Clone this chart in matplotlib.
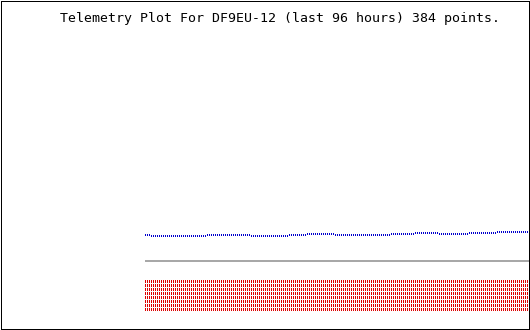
#!/usr/bin/env python3
"""Telemetry plot for DF9EU-12, last 96 hours."""

import matplotlib
matplotlib.use("Agg")
import matplotlib.pyplot as plt
from matplotlib.patches import Rectangle
from matplotlib.transforms import IdentityTransform

# ---------------------------------------------------------------------------
# Data
# ---------------------------------------------------------------------------
TITLE = "Telemetry Plot For DF9EU-12 (last 96 hours) 384 points."
HOURS = 96
SAMPLE_STEP = 0.5  # hours between plotted samples

# analog channel 1 (blue), raw counts, oldest -> newest
CH1 = [
    96, 96, 96,
    95, 95, 95, 95, 95, 95, 95, 95, 95, 95, 95, 95, 95, 95,
    95, 95, 95, 95, 95, 95, 95, 95, 95, 95, 95, 95, 95, 95,
    96, 96, 96, 96, 96, 96, 96, 96, 96, 96, 96,
    96, 96, 96, 96, 96, 96, 96, 96, 96, 96, 96,
    95, 95, 95, 95, 95, 95, 95, 95, 95, 95,
    95, 95, 95, 95, 95, 95, 95, 95, 95,
    96, 96, 96, 96, 96, 96, 96, 96, 96,
    97, 97, 97, 97, 97, 97, 97, 97, 97, 97, 97, 97, 97, 97,
    96, 96, 96, 96, 96, 96, 96, 96, 96, 96, 96, 96, 96, 96,
    96, 96, 96, 96, 96, 96, 96, 96, 96, 96, 96, 96, 96, 96,
    97, 97, 97, 97, 97, 97, 97, 97, 97, 97, 97, 97,
    98, 98, 98, 98, 98, 98, 98, 98, 98, 98, 98, 98,
    97, 97, 97, 97, 97, 97, 97, 97, 97, 97, 97, 97, 97, 97, 97,
    98, 98, 98, 98, 98, 98, 98, 98, 98, 98, 98, 98, 98, 98,
    99, 99, 99, 99, 99, 99, 99, 99, 99, 99, 99, 99, 99, 99, 99, 99,
]

# analog channel 2 (grey), constant over the window
CH2_LEVEL = 69

# digital bits (red), state of each of the 8 bits
BITS = [1, 1, 1, 1, 1, 1, 1, 1]

# ---------------------------------------------------------------------------
# Style
# ---------------------------------------------------------------------------
BLUE = "#0000cc"
GREY = "#a8a8a8"
RED = "#dd0000"
W, H, DPI = 530, 330, 100
PLOT_LEFT_PX = 145
PX_PER_HOUR = 4
BIT_TOP = 50
BIT_PITCH = 4
BIT_HEIGHT = 3

times = [-HOURS + i * SAMPLE_STEP for i in range(len(CH1))]

fig = plt.figure(figsize=(W / DPI, H / DPI), dpi=DPI, facecolor="white")
ax = fig.add_axes([0, 0, 1, 1])
ax.set_axis_off()
ax.set_xlim(-HOURS - PLOT_LEFT_PX / PX_PER_HOUR,
            -HOURS + (W - PLOT_LEFT_PX) / PX_PER_HOUR)
ax.set_ylim(0, H)

dot_w = 1 / PX_PER_HOUR

# channel 1 as 1x2 px dots
ax.bar(times, [2] * len(CH1), width=dot_w, bottom=[v - 2 for v in CH1],
       align="edge", color=BLUE, linewidth=0, antialiased=False)

# channel 2 as a flat line
ax.hlines(CH2_LEVEL, times[0], times[-1] + SAMPLE_STEP, color=GREY,
          linewidth=2 * 72 / DPI, antialiased=False)

# digital bits, one row per bit
for i, b in enumerate(BITS):
    if not b:
        continue
    top = BIT_TOP - i * BIT_PITCH
    ax.bar(times, [BIT_HEIGHT] * len(times), width=dot_w,
           bottom=top - BIT_HEIGHT, align="edge", color=RED,
           linewidth=0, antialiased=False)

# frame round the image
fig.add_artist(Rectangle((0.5, 1.5), W - 2, H - 2, transform=IdentityTransform(),
                         fill=False, edgecolor="black", linewidth=72 / DPI,
                         antialiased=False))

fig.text(60 / W, 1 - 22 / H, TITLE, family="DejaVu Sans Mono", fontsize=9.5,
         ha="left", va="baseline", color="black")

fig.savefig("out.png", dpi=DPI, facecolor="white")
